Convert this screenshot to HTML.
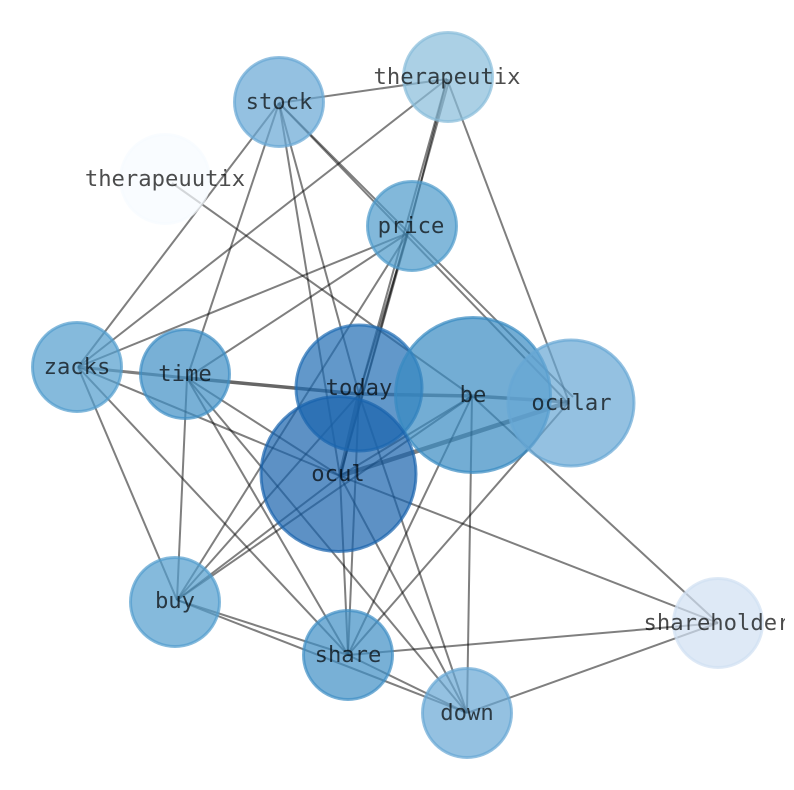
<!DOCTYPE html>
<html><head><meta charset="utf-8"><style>html,body{margin:0;padding:0;background:#fff}svg{display:block}text{font-family:"DejaVu Sans Mono","Liberation Mono",monospace;font-size:22.2px;text-anchor:middle;fill:#000;fill-opacity:.7}</style></head><body>
<svg width="794" height="790" viewBox="0 0 794 790" xmlns="http://www.w3.org/2000/svg">
<defs><clipPath id="c"><rect x="0" y="0" width="785" height="790"/></clipPath></defs>
<g stroke="#000" stroke-opacity=".5" stroke-width="2" fill="none">
<line x1="447" y1="79" x2="279" y2="103"/>
<line x1="447" y1="79" x2="78" y2="367"/>
<line x1="447" y1="79" x2="359" y2="394"/>
<line x1="449.500" y1="79" x2="340" y2="476"/>
<line x1="447" y1="79" x2="408" y2="233"/>
<line x1="447" y1="79" x2="569" y2="402"/>
<line x1="279" y1="103" x2="78" y2="367"/>
<line x1="279" y1="103" x2="187" y2="378"/>
<line x1="279" y1="103" x2="359" y2="394"/>
<line x1="279" y1="103" x2="340" y2="476"/>
<line x1="279" y1="103" x2="569" y2="404"/>
<line x1="279" y1="103" x2="573" y2="397"/>
<line x1="172" y1="183" x2="472" y2="396"/>
<line x1="408" y1="233" x2="78" y2="367"/>
<line x1="408" y1="233" x2="187" y2="378"/>
<line x1="408" y1="233" x2="359" y2="394"/>
<line x1="408" y1="233" x2="340" y2="476"/>
<line x1="408" y1="233" x2="177" y2="600"/>
<line x1="78" y1="367" x2="340" y2="476"/>
<line x1="78" y1="367" x2="177" y2="600"/>
<line x1="78" y1="367" x2="348" y2="655"/>
<line x1="187" y1="378" x2="340" y2="476"/>
<line x1="187" y1="378" x2="177" y2="600"/>
<line x1="187" y1="378" x2="348" y2="655"/>
<line x1="187" y1="378" x2="467" y2="713"/>
<line x1="359" y1="394" x2="177" y2="600"/>
<line x1="359" y1="394" x2="348" y2="655"/>
<line x1="359" y1="394" x2="467" y2="713"/>
<line x1="340" y1="476" x2="177" y2="600"/>
<line x1="340" y1="476" x2="348" y2="655"/>
<line x1="340" y1="476" x2="467" y2="713"/>
<line x1="340" y1="476" x2="718" y2="623"/>
<line x1="340" y1="476" x2="472" y2="396"/>
<line x1="472" y1="396" x2="177" y2="600"/>
<line x1="472" y1="396" x2="348" y2="655"/>
<line x1="472" y1="396" x2="467" y2="713"/>
<line x1="472" y1="396" x2="718" y2="623"/>
<line x1="569" y1="402" x2="348" y2="655"/>
<line x1="177" y1="600" x2="348" y2="655"/>
<line x1="177" y1="600" x2="467" y2="713"/>
<line x1="348" y1="655" x2="467" y2="713"/>
<line x1="348" y1="655" x2="718" y2="623"/>
<line x1="467" y1="713" x2="718" y2="623"/>
<line x1="78" y1="367" x2="187" y2="378" stroke-width="3"/>
<line x1="187" y1="378" x2="359" y2="394" stroke-width="3.5" stroke-opacity=".6"/>
<line x1="359" y1="394" x2="472" y2="396" stroke-width="3.5"/>
<line x1="472" y1="396" x2="569" y2="402" stroke-width="3.5"/>
<line x1="359" y1="394" x2="340" y2="476" stroke-width="4"/>
<line x1="340" y1="476" x2="569" y2="402" stroke-width="4.5"/>
</g>
<g stroke-width="3" fill-opacity=".7" stroke-opacity=".7">
<circle cx="448" cy="77" r="44.5" fill="#88bcda" stroke="#88bcda"/>
<circle cx="279" cy="102" r="44.5" fill="#66a6d4" stroke="#66a6d4"/>
<circle cx="165" cy="179" r="44.5" fill="#f7fbff" stroke="#f7fbff"/>
<circle cx="412" cy="226" r="44.5" fill="#4d9acb" stroke="#4d9acb"/>
<circle cx="77" cy="367" r="44.5" fill="#519ccd" stroke="#519ccd"/>
<circle cx="185" cy="374" r="44.5" fill="#3e8ec4" stroke="#3e8ec4"/>
<circle cx="359" cy="388" r="63" fill="#1f6cb3" stroke="#1f6cb3"/>
<circle cx="473" cy="395" r="77.5" fill="#388ac2" stroke="#388ac2"/>
<circle cx="571" cy="403" r="63" fill="#66a6d4" stroke="#66a6d4"/>
<circle cx="338.5" cy="474" r="77.5" fill="#1863ac" stroke="#1863ac"/>
<circle cx="175" cy="602" r="44.5" fill="#519ccd" stroke="#519ccd"/>
<circle cx="348" cy="655" r="44.5" fill="#3e8ec4" stroke="#3e8ec4"/>
<circle cx="467" cy="713" r="44.5" fill="#66a6d4" stroke="#66a6d4"/>
<circle cx="718" cy="623" r="44.5" fill="#d0e0f2" stroke="#d0e0f2"/>
</g>
<g clip-path="url(#c)">
<text x="447" y="84">therapeutix</text>
<text x="279" y="109">stock</text>
<text x="165" y="186">therapeuutix</text>
<text x="411" y="233">price</text>
<text x="77" y="374">zacks</text>
<text x="185" y="381">time</text>
<text x="359" y="395">today</text>
<text x="473" y="402">be</text>
<text x="571.5" y="410">ocular</text>
<text x="338" y="481">ocul</text>
<text x="175" y="608">buy</text>
<text x="348" y="662">share</text>
<text x="467" y="720">down</text>
<text x="717" y="630">shareholder</text>
</g>
</svg>
</body></html>
